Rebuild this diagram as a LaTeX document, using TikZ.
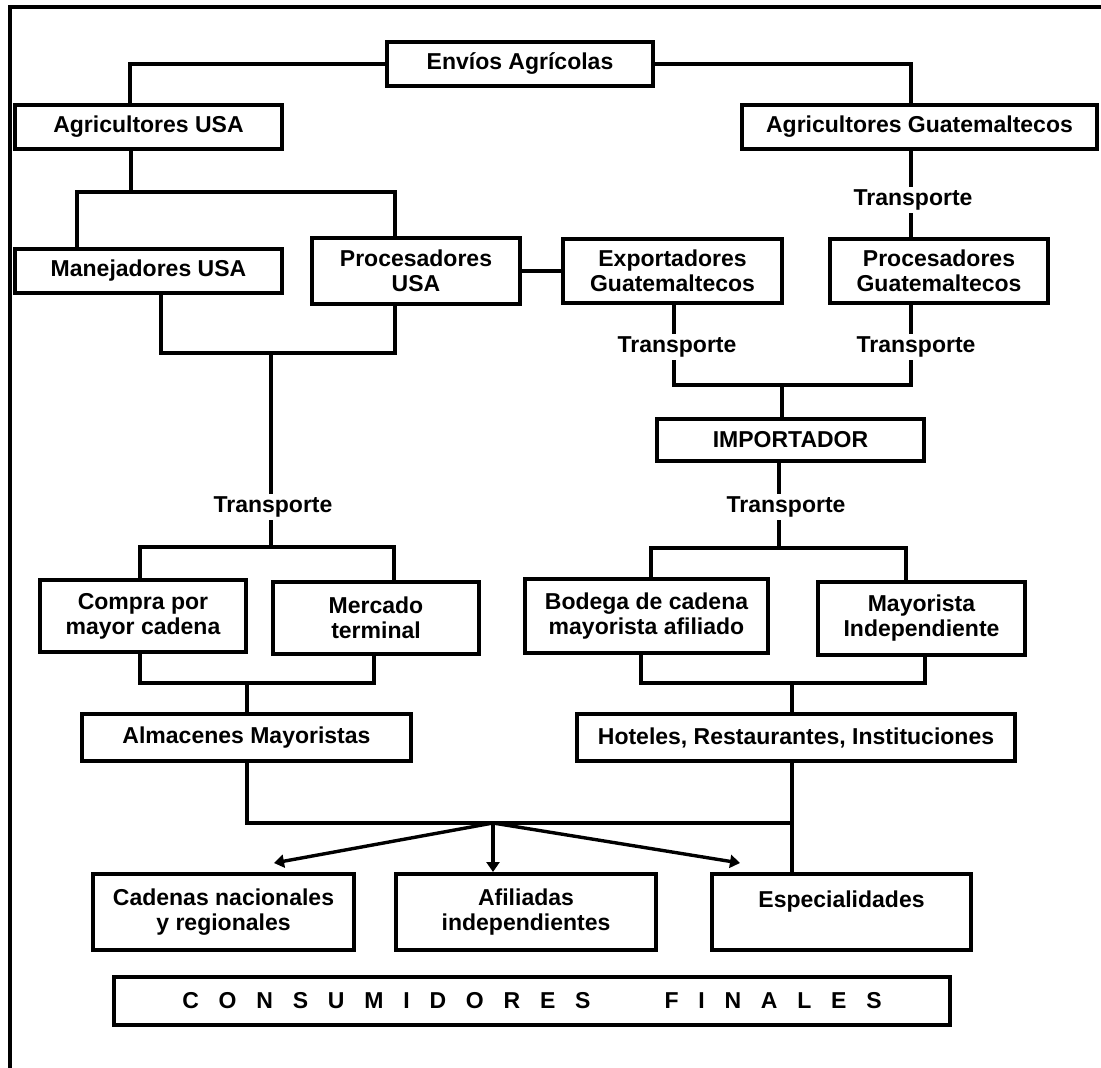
\documentclass[tikz,border=0pt]{standalone}
\usepackage{fontspec}
\setmainfont{Liberation Sans}
\usetikzlibrary{arrows.meta}
\newcommand{\boxfont}{\fontsize{11.5}{12.5}\selectfont}
\tikzset{
  ent/.style ={rectangle, draw, line width=2pt, inner sep=0pt,
               align=center, font=\bfseries\boxfont},
  trn/.style ={fill=white, inner sep=1.5pt, font=\bfseries\boxfont},
  lnk/.style ={draw, line width=2pt},
  flow/.style={-{Triangle[length=5pt,width=6.5pt]}, draw, line width=1.7pt},
}
\begin{document}
\begin{tikzpicture}[x=0.5pt,y=-0.5pt]
\useasboundingbox (0,0) rectangle (1101,1068);
% frame
\draw[lnk] (10,1068) -- (10,7) -- (1101,7);
% boxes
\node[ent, minimum width=133pt,   minimum height=22pt]   (envios)  at (520,64)      {Env\'ios Agr\'icolas};
\node[ent, minimum width=133.5pt, minimum height=22pt]   (agrusa)  at (148.5,127)   {Agricultores USA};
\node[ent, minimum width=177.5pt, minimum height=22pt]   (agrguat) at (919.5,127)   {Agricultores Guatemaltecos};
\node[ent, minimum width=133.5pt, minimum height=22pt]   (manej)   at (148.5,271)   {Manejadores USA};
\node[ent, minimum width=104pt,   minimum height=33pt]   (procusa) at (416,271)     {Procesadores\\USA};
\node[ent, minimum width=109.5pt, minimum height=32pt]   (export)  at (672.5,271)   {Exportadores\\Guatemaltecos};
\node[ent, minimum width=109pt,   minimum height=32pt]   (procguat) at (939,271)    {Procesadores\\Guatemaltecos};
\node[ent, minimum width=133.5pt, minimum height=21pt]   (import)  at (790.5,440)   {IMPORTADOR};
\node[ent, minimum width=103pt,   minimum height=36pt]   (compra)  at (143,616)     {Compra por\\mayor cadena};
\node[ent, minimum width=103pt,   minimum height=36pt]   (mercado) at (376,618)     {Mercado\\terminal};
\node[ent, minimum width=121.5pt, minimum height=37pt]   (bodega)  at (646.5,616)   {Bodega de cadena\\mayorista afiliado};
\node[ent, minimum width=103.5pt, minimum height=36.5pt] (mayind)  at (921.5,618.5) {Mayorista\\Independiente};
\node[ent, minimum width=164.5pt, minimum height=23.5pt] (almac)   at (246.5,737.5) {Almacenes Mayoristas};
\node[ent, minimum width=219pt,   minimum height=23.5pt] (hoteles) at (796,737.5)   {Hoteles, Restaurantes, Instituciones};
\node[ent, minimum width=130.5pt, minimum height=38pt]   (cadenas) at (223.5,912)   {Cadenas nacionales\\y regionales};
\node[ent, minimum width=130pt,   minimum height=38pt]   (afil)    at (526,912)     {Afiliadas\\independientes};
\node[ent, minimum width=129.5pt, minimum height=38pt]   (espec)   at (841.5,912)   {Especialidades\\\mbox{}};
\node[ent, minimum width=418pt,   minimum height=24pt]   (consum)  at (532,1001)
  {\spaceskip=9.9pt C O N S U M I D O R E S\hspace{37pt}F I N A L E S};
% junctions
\coordinate (jA)  at (130,61);
\coordinate (jB)  at (911,61);
\coordinate (jC)  at (131,192);
\coordinate (jCl) at (77,192);
\coordinate (jCr) at (395,192);
\coordinate (jD)  at (911,200);
\coordinate (jE)  at (271,353);
\coordinate (jEl) at (161,353);
\coordinate (jEr) at (395,353);
\coordinate (jF)  at (271,547);
\coordinate (jFl) at (140,547);
\coordinate (jFr) at (394,547);
\coordinate (jG)  at (247,683);
\coordinate (jGl) at (140,683);
\coordinate (jGr) at (374,683);
\coordinate (jH)  at (782,385);
\coordinate (jHl) at (674,385);
\coordinate (jHr) at (911,385);
\coordinate (jI)  at (779,548);
\coordinate (jIl) at (651,548);
\coordinate (jIr) at (906,548);
\coordinate (jJ)  at (792,683);
\coordinate (jJl) at (641,683);
\coordinate (jJr) at (925,683);
\coordinate (jK)  at (792,823);
\coordinate (jKl) at (247,823);
\coordinate (hub) at (493,823);
\coordinate (tipL) at (274,863);
\coordinate (tipR) at (740,863);
% connectors
\draw[lnk] (envios.west) -| (agrusa.north -| jA);
\draw[lnk] (envios.east) -| (agrguat.north -| jB);
\draw[lnk] (agrusa.south -| jC) -- (jC);
\draw[lnk] (manej.north -| jCl) -- (jCl) -- (jCr) -- (procusa.north -| jCr);
\draw[lnk] (procusa) -- (export);
\draw[lnk] (agrguat.south -| jD) -- (procguat.north -| jD);
\draw[lnk] (manej.south -| jEl) -- (jEl) -- (jEr) -- (procusa.south -| jEr);
\draw[lnk] (jE) -- (jF);
\draw[lnk] (compra.north -| jFl) -- (jFl) -- (jFr) -- (mercado.north -| jFr);
\draw[lnk] (compra.south -| jGl) -- (jGl) -- (jGr) -- (mercado.south -| jGr);
\draw[lnk] (jG) -- (almac.north -| jG);
\draw[lnk] (export.south -| jHl) -- (jHl) -- (jHr) -- (procguat.south -| jHr);
\draw[lnk] (jH) -- (import.north -| jH);
\draw[lnk] (import.south -| jI) -- (jI);
\draw[lnk] (bodega.north -| jIl) -- (jIl) -- (jIr) -- (mayind.north -| jIr);
\draw[lnk] (bodega.south -| jJl) -- (jJl) -- (jJr) -- (mayind.south -| jJr);
\draw[lnk] (jJ) -- (hoteles.north -| jJ);
\draw[lnk] (almac.south -| jKl) -- (jKl) -- (jK);
\draw[lnk] (hoteles.south -| jK) -- (espec.north -| jK);
\draw[flow] (hub) -- (tipL);
\draw[flow] (hub) -- (afil.north -| hub);
\draw[flow] (hub) -- (tipR);
% transport labels
\node[trn] (t1) at (913,200) {Transporte};
\node[trn] (t2) at (677,347) {Transporte};
\node[trn] (t3) at (916,347) {Transporte};
\node[trn] (t4) at (273,507) {Transporte};
\node[trn] (t5) at (786,507) {Transporte};
\end{tikzpicture}
\end{document}
